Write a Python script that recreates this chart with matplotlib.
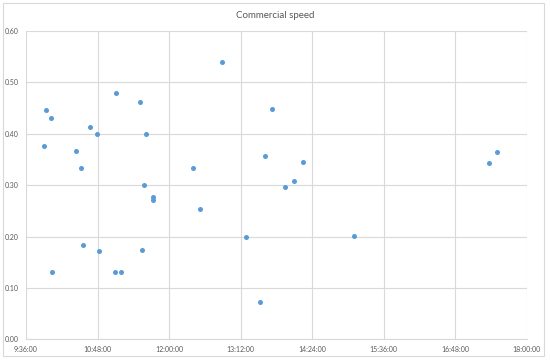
import matplotlib
matplotlib.use("Agg")
import matplotlib.pyplot as plt
from matplotlib.patches import Rectangle
from matplotlib.ticker import FuncFormatter, MultipleLocator

plt.rcParams["font.family"] = ["Lato", "DejaVu Sans"]

# time of day and commercial speed for each observation
times = [
    "9:53:48", "9:56:24", "10:00:48", "10:01:48", "10:26:18", "10:31:18",
    "10:33:18", "10:40:42", "10:47:00", "10:49:42", "11:06:12", "11:05:12",
    "11:11:54", "11:30:42", "11:37:00", "11:32:24", "11:34:24", "11:43:30",
    "11:43:36", "12:23:42", "12:31:00", "12:52:54", "13:17:36", "13:31:00",
    "13:36:24", "13:43:48", "13:56:54", "14:06:00", "14:14:24", "15:05:42",
    "17:22:00", "17:29:30",
]
speeds = [
    0.377, 0.447, 0.431, 0.131, 0.367, 0.333,
    0.183, 0.413, 0.399, 0.172, 0.479, 0.131,
    0.131, 0.461, 0.399, 0.174, 0.300, 0.276,
    0.271, 0.333, 0.253, 0.539, 0.199, 0.072,
    0.356, 0.448, 0.296, 0.309, 0.346, 0.202,
    0.343, 0.364,
]


def to_minutes(t):
    h, m, s = (int(p) for p in t.split(":"))
    return h * 60 + m + s / 60


def fmt_time(v, pos):
    total = int(round(v * 60))
    h, rest = divmod(total, 3600)
    m, s = divmod(rest, 60)
    return f"{h}:{m:02d}:{s:02d}"


x = [to_minutes(t) for t in times]

fig = plt.figure(figsize=(5.5, 3.61), dpi=100)
fig.patches.append(Rectangle((3 / 550, 1 - 356 / 361), 541 / 550, 353 / 361,
                             transform=fig.transFigure, fill=False,
                             edgecolor="#d9d9d9", linewidth=0.8))
ax = fig.add_axes([26 / 550, 1 - 339.3 / 361, 501 / 550, 308.3 / 361])

ax.scatter(x, speeds, s=13, color="#5B9BD5", zorder=3, linewidths=0)

ax.set_xlim(9 * 60 + 36, 18 * 60)
ax.set_ylim(0, 0.6)
ax.xaxis.set_major_locator(MultipleLocator(72))
ax.xaxis.set_major_formatter(FuncFormatter(fmt_time))
ax.yaxis.set_major_locator(MultipleLocator(0.1))
ax.yaxis.set_major_formatter(FuncFormatter(lambda v, p: f"{v:.2f}"))

ax.grid(True, color="#d9d9d9", linewidth=0.8)
ax.set_axisbelow(True)
for side in ["top", "right", "left"]:
    ax.spines[side].set_visible(False)
ax.spines["bottom"].set_color("#d9d9d9")
ax.tick_params(length=0, labelsize=5, colors="#595959", pad=5)

fig.text(0.5, 1 - 15 / 361, "Commercial speed", ha="center", va="center",
         fontsize=7, color="#595959")

fig.savefig("out.png", dpi=100)
